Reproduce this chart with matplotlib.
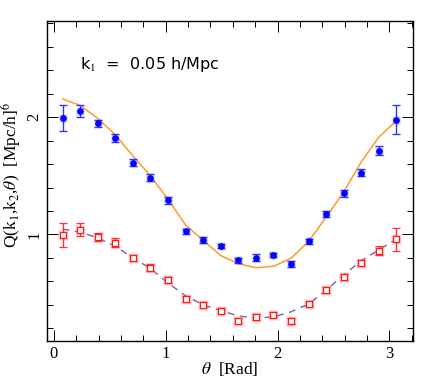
import numpy as np
import matplotlib
matplotlib.use("Agg")
import matplotlib.pyplot as plt
from matplotlib.ticker import MultipleLocator

# angles: 20 bins, centred
theta = (np.arange(20) + 0.5) * np.pi / 20

# measured Q (blue, filled circles)
q_blue = [1.99, 2.05, 1.95, 1.82, 1.61, 1.485, 1.29, 1.025, 0.955, 0.90,
          0.78, 0.80, 0.825, 0.75, 0.94, 1.175, 1.352, 1.528, 1.714, 1.98]
err_blue = [0.11, 0.05, 0.03, 0.035, 0.03, 0.03, 0.03, 0.025, 0.025, 0.02,
            0.02, 0.03, 0.02, 0.025, 0.025, 0.025, 0.03, 0.03, 0.04, 0.125]

# measured Q (red, open squares)
q_red = [0.996, 1.04, 0.976, 0.93, 0.80, 0.716, 0.61, 0.45, 0.40, 0.35,
         0.263, 0.297, 0.315, 0.258, 0.406, 0.526, 0.64, 0.76, 0.862, 0.959]
err_red = [0.1, 0.055, 0.035, 0.04, 0.025, 0.03, 0.025, 0.025, 0.02, 0.02,
           0.02, 0.025, 0.02, 0.025, 0.02, 0.025, 0.025, 0.025, 0.035, 0.1]

# model curves
q_model_blue = [2.155, 2.10, 1.99, 1.85, 1.67, 1.50, 1.30, 1.08, 0.95, 0.82,
                0.75, 0.716, 0.728, 0.797, 0.94, 1.147, 1.363, 1.62, 1.83, 1.97]
q_model_red = [1.045, 1.02, 0.97, 0.90, 0.80, 0.71, 0.585, 0.477, 0.40, 0.35,
               0.305, 0.286, 0.297, 0.34, 0.406, 0.526, 0.654, 0.776, 0.868, 0.96]

plt.rcParams["font.family"] = ["Liberation Serif", "DejaVu Serif"]
plt.rcParams["mathtext.fontset"] = "stix"

fig = plt.figure(figsize=(4.36, 3.82), dpi=100)
ax = fig.add_axes([0.108, 0.107, 0.839, 0.838])

ax.plot(theta, q_model_blue, color="#ff9a2e", lw=1.1, zorder=2)
ax.plot(theta, q_model_red, color="#7a5cb0", lw=1.0, ls=(0, (5, 4)), zorder=2)

# faint halo behind markers
ax.plot(theta, q_blue, "s", ms=6, color="#8080ff", alpha=0.4, mec="none", zorder=3)
ax.errorbar(theta, q_blue, yerr=err_blue, fmt="o", ms=3.8, color="#0000ff",
            ecolor="#3333ff", elinewidth=1.0, capsize=3, capthick=1.0, zorder=4)

ax.plot(theta, q_red, "s", ms=7, color="#ff8080", alpha=0.4, mec="none", zorder=3)
ax.errorbar(theta, q_red, yerr=err_red, fmt="s", ms=4.3, mfc="white", mec="#ff1a1a",
            mew=0.9, ecolor="#ff3030", elinewidth=1.0, capsize=3, capthick=1.0, zorder=4)

ax.set_xlim(-0.06, 3.21)
ax.set_ylim(0.09, 2.82)
ax.xaxis.set_major_locator(MultipleLocator(1))
ax.xaxis.set_minor_locator(MultipleLocator(0.2))
ax.yaxis.set_major_locator(MultipleLocator(1))
ax.yaxis.set_minor_locator(MultipleLocator(0.2))
ax.tick_params(which="both", direction="in", top=True, right=True, labelsize=12)
ax.tick_params(which="major", length=8, width=0.7)
ax.tick_params(which="minor", length=4, width=0.7)
for s in ax.spines.values():
    s.set_linewidth(1.0)
for lab in ax.get_yticklabels():
    lab.set_rotation(90)
    lab.set_va("center")

ax.set_xlabel(r"$\theta$  [Rad]", fontsize=12.5)
ax.set_ylabel(r"Q(k$_1$,k$_2$,$\theta$)  [Mpc/h]$^6$", fontsize=12.5)
ax.xaxis.set_label_coords(0.5, -0.058)
ax.yaxis.set_label_coords(-0.066, 0.52)

ax.text(0.09, 0.865, r"k$_1$  =  0.05 h/Mpc", transform=ax.transAxes,
        fontsize=11.5, family="DejaVu Sans", va="center")

fig.savefig("out.png", dpi=100)
